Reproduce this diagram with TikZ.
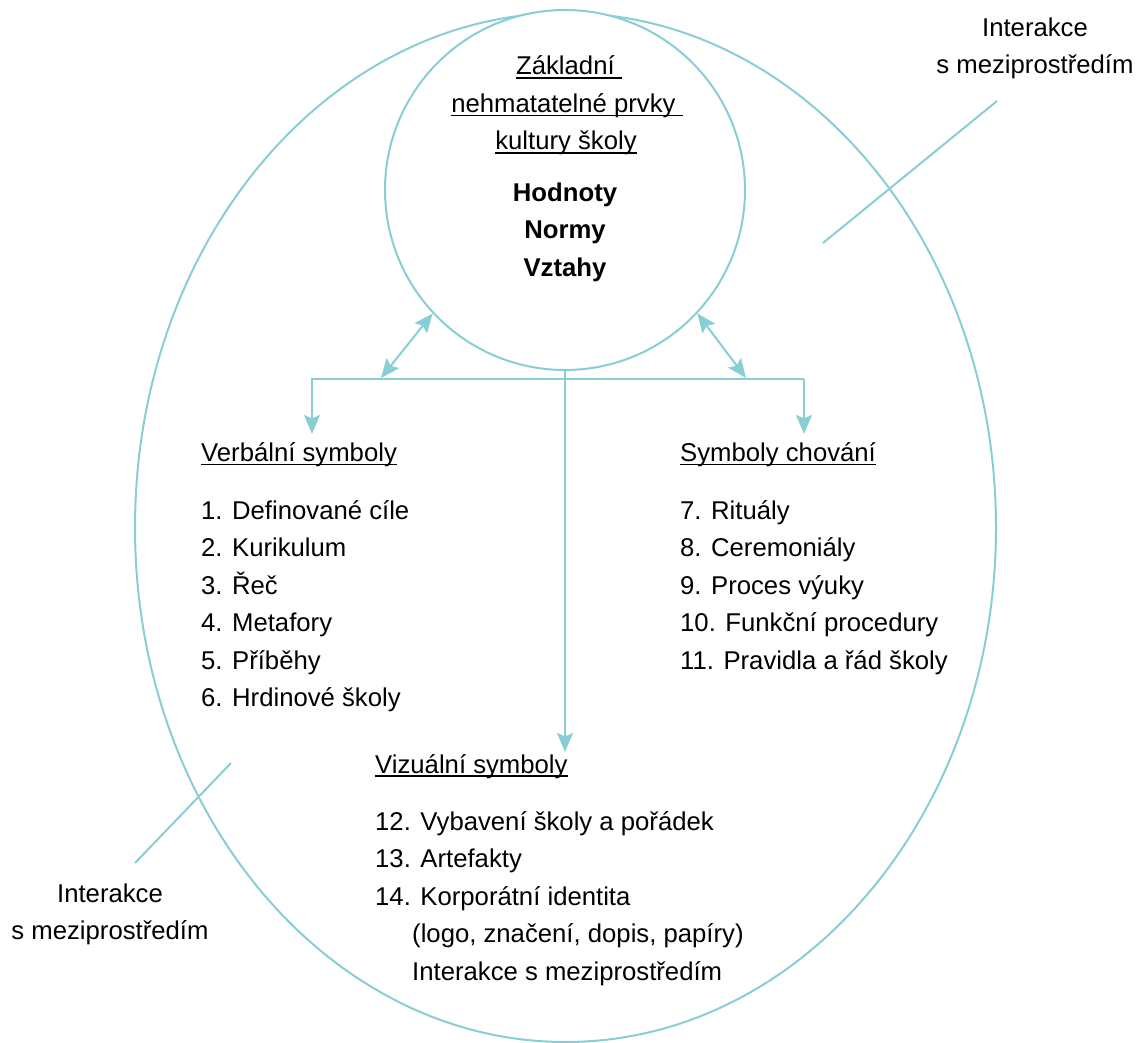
\documentclass[tikz,border=0pt]{standalone}
\usepackage{fontspec}
\setmainfont{Liberation Sans}
\usetikzlibrary{arrows.meta,shapes.geometric}
\definecolor{teal1}{RGB}{137,206,212}
\newcommand{\myul}[1]{\setbox0\hbox{#1}\rlap{\rule[-3.6pt]{\wd0}{1.3pt}}\box0}
\tikzset{
  conn/.style={draw=teal1, line width=2pt},
  tipA/.style={-{Stealth[length=19pt,width=16pt,inset=3.5pt]}},
  tipB/.style={{Stealth[length=19pt,width=16pt,inset=3.5pt]}-{Stealth[length=19pt,width=16pt,inset=3.5pt]}},
  txt/.style={inner sep=0pt, font=\fontsize{25.7}{37.5}\selectfont, text=black},
  lt/.style={txt, anchor=base west},
  ct/.style={txt, anchor=base},
}
\begin{document}
\begin{tikzpicture}[x=1pt,y=-1pt]
\useasboundingbox (0,0) rectangle (1137,1043);
% shapes
\node[ellipse, draw=teal1, line width=2pt, minimum width=861pt, minimum height=1029pt, inner sep=0pt] (env) at (565.5,527.5) {};
\node[circle, draw=teal1, line width=2pt, minimum size=360pt, inner sep=0pt, fill=white] (core) at (565,190) {};
% core texts
\node[ct] (t1) at (569,75) {\myul{Základní\ }};
\node[ct] (t2) at (567,112.5) {\myul{nehmatatelné prvky\ }};
\node[ct] (t3) at (566,150) {\myul{kultury školy}};
\node[ct, font=\fontsize{25.7}{37.5}\selectfont\bfseries] (h1) at (565,201) {Hodnoty};
\node[ct, font=\fontsize{25.7}{37.5}\selectfont\bfseries] (h2) at (565,238.5) {Normy};
\node[ct, font=\fontsize{25.7}{37.5}\selectfont\bfseries] (h3) at (565,276) {Vztahy};
% verbal
\node[lt] (vh) at (201,461.5) {\myul{Verbální symboly}};
\node[lt] (v1) at (201,519) {1. Definované cíle};
\node[lt] (v2) at (201,556.5) {2. Kurikulum};
\node[lt] (v3) at (201,594) {3. Řeč};
\node[lt] (v4) at (201,631.5) {4. Metafory};
\node[lt] (v5) at (201,669) {5. Příběhy};
\node[lt] (v6) at (201,706.5) {6. Hrdinové školy};
% behaviour
\node[lt] (bh) at (680,461.5) {\myul{Symboly chování}};
\node[lt] (b1) at (680,519) {7. Rituály};
\node[lt] (b2) at (680,556.5) {8. Ceremoniály};
\node[lt] (b3) at (680,594) {9. Proces výuky};
\node[lt] (b4) at (680,631.5) {10. Funkční procedury};
\node[lt] (b5) at (680,669) {11. Pravidla a řád školy};
% visual
\node[lt] (zh) at (375,773) {\myul{Vizuální symboly}};
\node[lt] (z1) at (375,830) {12. Vybavení školy a pořádek};
\node[lt] (z2) at (375,867.5) {13. Artefakty};
\node[lt] (z3) at (375,905) {14. Korporátní identita};
\node[lt] (z4) at (412,942.5) {(logo, značení, dopis, papíry)};
\node[lt] (z5) at (412,980) {Interakce s meziprostředím};
% environment labels
\node[ct] (e1) at (1035,37) {Interakce};
\node[ct] (e2) at (1035,74) {s meziprostředím};
\node[ct] (e3) at (110,902) {Interakce};
\node[ct] (e4) at (110,939.5) {s meziprostředím};
% connector coordinates
\coordinate (bl) at (312,379);
\coordinate (br) at (804,379);
\coordinate (ml) at (381,378);
\coordinate (mr) at (746,378);
\coordinate (vtip) at (312,434);
\coordinate (btip) at (804,434);
\coordinate (ztip) at (565,752);
\coordinate (la) at (823,243);
\coordinate (lb) at (997,101);
\coordinate (lc) at (135,863);
\coordinate (ld) at (231,763);
% connectors
\draw[conn, tipA] (br) -- (bl) -- (vtip);
\draw[conn, tipA] (br) -- (btip);
\draw[conn, tipA] (core.south) -- (ztip);
\draw[conn, tipB] (core.223) -- (ml);
\draw[conn, tipB] (core.317) -- (mr);
\draw[conn] (la) -- (lb);
\draw[conn] (lc) -- (ld);
\end{tikzpicture}
\end{document}
